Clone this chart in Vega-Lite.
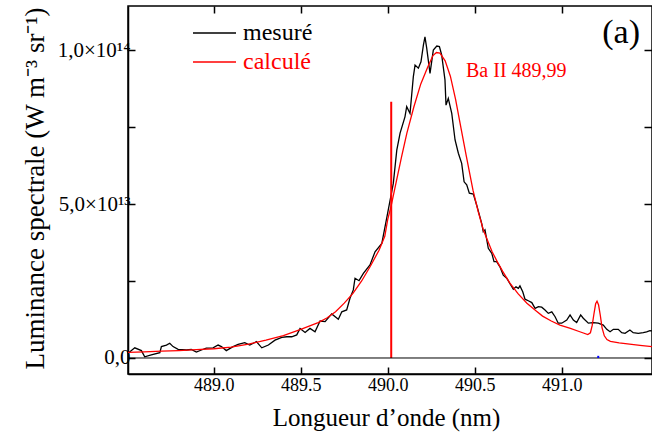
{
 "$schema": "https://vega.github.io/schema/vega-lite/v6.json",
 "width": 524,
 "height": 368,
 "autosize": {"type": "none"},
 "padding": {"left": 128, "top": 6, "right": 0, "bottom": 71},
 "background": "white",
 "config": {
  "view": {"stroke": "black", "strokeWidth": 1.5},
  "axis": {"domainColor": "black", "domainWidth": 1.5, "tickColor": "black", "tickWidth": 1.5, "labelColor": "black", "titleColor": "black", "grid": false, "labelFont": "Liberation Serif", "labelFontSize": 20, "titleFont": "Liberation Serif", "titleFontSize": 27, "titleFontWeight": "normal"}
 },
 "layer": [
  {
   "data": {"values": [
    {"serie":"mesuré","nm":488.507,"L":0.15},{"serie":"mesuré","nm":488.546,"L":0.33},{"serie":"mesuré","nm":488.584,"L":0.24},{"serie":"mesuré","nm":488.603,"L":0.04},{"serie":"mesuré","nm":488.641,"L":0.10},{"serie":"mesuré","nm":488.690,"L":0.17},{"serie":"mesuré","nm":488.699,"L":0.37},{"serie":"mesuré","nm":488.728,"L":0.42},{"serie":"mesuré","nm":488.747,"L":0.48},{"serie":"mesuré","nm":488.766,"L":0.37},{"serie":"mesuré","nm":488.795,"L":0.28},{"serie":"mesuré","nm":488.843,"L":0.26},{"serie":"mesuré","nm":488.871,"L":0.28},{"serie":"mesuré","nm":488.900,"L":0.19},{"serie":"mesuré","nm":488.929,"L":0.26},{"serie":"mesuré","nm":488.957,"L":0.32},{"serie":"mesuré","nm":488.996,"L":0.33},{"serie":"mesuré","nm":489.025,"L":0.42},{"serie":"mesuré","nm":489.044,"L":0.37},{"serie":"mesuré","nm":489.072,"L":0.24},{"serie":"mesuré","nm":489.111,"L":0.37},{"serie":"mesuré","nm":489.140,"L":0.44},{"serie":"mesuré","nm":489.178,"L":0.50},{"serie":"mesuré","nm":489.207,"L":0.42},{"serie":"mesuré","nm":489.245,"L":0.53},{"serie":"mesuré","nm":489.276,"L":0.33},{"serie":"mesuré","nm":489.314,"L":0.42},{"serie":"mesuré","nm":489.352,"L":0.58},{"serie":"mesuré","nm":489.391,"L":0.67},{"serie":"mesuré","nm":489.420,"L":0.69},{"serie":"mesuré","nm":489.448,"L":0.69},{"serie":"mesuré","nm":489.477,"L":0.75},{"serie":"mesuré","nm":489.496,"L":0.96},{"serie":"mesuré","nm":489.525,"L":0.83},{"serie":"mesuré","nm":489.553,"L":0.96},{"serie":"mesuré","nm":489.582,"L":0.85},{"serie":"mesuré","nm":489.611,"L":1.20},{"serie":"mesuré","nm":489.640,"L":1.18},{"serie":"mesuré","nm":489.678,"L":1.43},{"serie":"mesuré","nm":489.716,"L":1.26},{"serie":"mesuré","nm":489.736,"L":1.50},{"serie":"mesuré","nm":489.764,"L":1.56},{"serie":"mesuré","nm":489.783,"L":1.94},{"serie":"mesuré","nm":489.802,"L":2.21},{"serie":"mesuré","nm":489.812,"L":2.59},{"serie":"mesuré","nm":489.835,"L":2.51},{"serie":"mesuré","nm":489.860,"L":2.75},{"serie":"mesuré","nm":489.898,"L":3.02},{"serie":"mesuré","nm":489.927,"L":3.45},{"serie":"mesuré","nm":489.966,"L":3.72},{"serie":"mesuré","nm":489.994,"L":4.54},{"serie":"mesuré","nm":490.032,"L":5.67},{"serie":"mesuré","nm":490.052,"L":6.75},{"serie":"mesuré","nm":490.071,"L":7.30},{"serie":"mesuré","nm":490.099,"L":7.83},{"serie":"mesuré","nm":490.109,"L":8.16},{"serie":"mesuré","nm":490.128,"L":7.94},{"serie":"mesuré","nm":490.147,"L":9.13},{"serie":"mesuré","nm":490.157,"L":9.51},{"serie":"mesuré","nm":490.176,"L":9.41},{"serie":"mesuré","nm":490.191,"L":9.62},{"serie":"mesuré","nm":490.205,"L":10.16},{"serie":"mesuré","nm":490.214,"L":10.43},{"serie":"mesuré","nm":490.224,"L":10.06},{"serie":"mesuré","nm":490.243,"L":9.24},{"serie":"mesuré","nm":490.262,"L":10.00},{"serie":"mesuré","nm":490.282,"L":10.13},{"serie":"mesuré","nm":490.297,"L":10.11},{"serie":"mesuré","nm":490.310,"L":9.84},{"serie":"mesuré","nm":490.329,"L":9.03},{"serie":"mesuré","nm":490.335,"L":8.21},{"serie":"mesuré","nm":490.348,"L":8.43},{"serie":"mesuré","nm":490.368,"L":7.94},{"serie":"mesuré","nm":490.387,"L":7.08},{"serie":"mesuré","nm":490.406,"L":6.65},{"serie":"mesuré","nm":490.425,"L":6.32},{"serie":"mesuré","nm":490.439,"L":5.72},{"serie":"mesuré","nm":490.454,"L":5.62},{"serie":"mesuré","nm":490.469,"L":5.35},{"serie":"mesuré","nm":490.492,"L":5.32},{"serie":"mesuré","nm":490.511,"L":4.97},{"serie":"mesuré","nm":490.540,"L":4.37},{"serie":"mesuré","nm":490.549,"L":4.10},{"serie":"mesuré","nm":490.559,"L":4.16},{"serie":"mesuré","nm":490.578,"L":3.56},{"serie":"mesuré","nm":490.598,"L":3.40},{"serie":"mesuré","nm":490.611,"L":3.13},{"serie":"mesuré","nm":490.626,"L":3.13},{"serie":"mesuré","nm":490.645,"L":2.96},{"serie":"mesuré","nm":490.664,"L":2.69},{"serie":"mesuré","nm":490.684,"L":2.59},{"serie":"mesuré","nm":490.707,"L":2.37},{"serie":"mesuré","nm":490.722,"L":2.23},{"serie":"mesuré","nm":490.737,"L":2.31},{"serie":"mesuré","nm":490.751,"L":2.26},{"serie":"mesuré","nm":490.760,"L":2.34},{"serie":"mesuré","nm":490.776,"L":2.15},{"serie":"mesuré","nm":490.789,"L":1.91},{"serie":"mesuré","nm":490.808,"L":1.86},{"serie":"mesuré","nm":490.828,"L":1.80},{"serie":"mesuré","nm":490.847,"L":1.61},{"serie":"mesuré","nm":490.866,"L":1.67},{"serie":"mesuré","nm":490.885,"L":1.65},{"serie":"mesuré","nm":490.904,"L":1.56},{"serie":"mesuré","nm":490.923,"L":1.45},{"serie":"mesuré","nm":490.943,"L":1.50},{"serie":"mesuré","nm":490.962,"L":1.34},{"serie":"mesuré","nm":490.980,"L":1.13},{"serie":"mesuré","nm":491.000,"L":1.13},{"serie":"mesuré","nm":491.029,"L":1.23},{"serie":"mesuré","nm":491.048,"L":1.40},{"serie":"mesuré","nm":491.067,"L":1.23},{"serie":"mesuré","nm":491.086,"L":1.15},{"serie":"mesuré","nm":491.109,"L":1.40},{"serie":"mesuré","nm":491.124,"L":1.29},{"serie":"mesuré","nm":491.153,"L":1.13},{"serie":"mesuré","nm":491.182,"L":1.15},{"serie":"mesuré","nm":491.210,"L":1.13},{"serie":"mesuré","nm":491.239,"L":1.07},{"serie":"mesuré","nm":491.259,"L":0.93},{"serie":"mesuré","nm":491.278,"L":0.85},{"serie":"mesuré","nm":491.297,"L":0.93},{"serie":"mesuré","nm":491.325,"L":0.93},{"serie":"mesuré","nm":491.345,"L":0.82},{"serie":"mesuré","nm":491.364,"L":0.80},{"serie":"mesuré","nm":491.392,"L":0.91},{"serie":"mesuré","nm":491.411,"L":0.82},{"serie":"mesuré","nm":491.440,"L":0.80},{"serie":"mesuré","nm":491.469,"L":0.82},{"serie":"mesuré","nm":491.488,"L":0.85},{"serie":"mesuré","nm":491.507,"L":0.89},{"serie":"mesuré","nm":491.519,"L":0.88},
    {"serie":"calculé","nm":488.507,"L":0.18},{"serie":"calculé","nm":488.6,"L":0.20},{"serie":"calculé","nm":488.7,"L":0.22},{"serie":"calculé","nm":488.8,"L":0.24},{"serie":"calculé","nm":488.9,"L":0.27},{"serie":"calculé","nm":489.0,"L":0.30},{"serie":"calculé","nm":489.1,"L":0.35},{"serie":"calculé","nm":489.2,"L":0.45},{"serie":"calculé","nm":489.3,"L":0.58},{"serie":"calculé","nm":489.4,"L":0.73},{"serie":"calculé","nm":489.5,"L":0.93},{"serie":"calculé","nm":489.6,"L":1.15},{"serie":"calculé","nm":489.65,"L":1.30},{"serie":"calculé","nm":489.7,"L":1.50},{"serie":"calculé","nm":489.75,"L":1.78},{"serie":"calculé","nm":489.8,"L":2.10},{"serie":"calculé","nm":489.85,"L":2.50},{"serie":"calculé","nm":489.9,"L":2.98},{"serie":"calculé","nm":489.95,"L":3.50},{"serie":"calculé","nm":489.983,"L":3.95},{"serie":"calculé","nm":490.0,"L":4.50},{"serie":"calculé","nm":490.02,"L":4.95},{"serie":"calculé","nm":490.05,"L":5.75},{"serie":"calculé","nm":490.08,"L":6.55},{"serie":"calculé","nm":490.11,"L":7.30},{"serie":"calculé","nm":490.15,"L":8.15},{"serie":"calculé","nm":490.19,"L":8.90},{"serie":"calculé","nm":490.23,"L":9.45},{"serie":"calculé","nm":490.26,"L":9.82},{"serie":"calculé","nm":490.28,"L":9.92},{"serie":"calculé","nm":490.30,"L":9.90},{"serie":"calculé","nm":490.33,"L":9.65},{"serie":"calculé","nm":490.36,"L":9.15},{"serie":"calculé","nm":490.39,"L":8.40},{"serie":"calculé","nm":490.42,"L":7.50},{"serie":"calculé","nm":490.45,"L":6.60},{"serie":"calculé","nm":490.49,"L":5.45},{"serie":"calculé","nm":490.52,"L":4.75},{"serie":"calculé","nm":490.55,"L":4.15},{"serie":"calculé","nm":490.60,"L":3.45},{"serie":"calculé","nm":490.63,"L":3.12},{"serie":"calculé","nm":490.66,"L":2.82},{"serie":"calculé","nm":490.70,"L":2.45},{"serie":"calculé","nm":490.75,"L":2.08},{"serie":"calculé","nm":490.80,"L":1.78},{"serie":"calculé","nm":490.85,"L":1.54},{"serie":"calculé","nm":490.89,"L":1.36},{"serie":"calculé","nm":490.94,"L":1.20},{"serie":"calculé","nm":490.99,"L":1.07},{"serie":"calculé","nm":491.05,"L":0.96},{"serie":"calculé","nm":491.10,"L":0.86},{"serie":"calculé","nm":491.15,"L":0.76},{"serie":"calculé","nm":491.165,"L":0.82},{"serie":"calculé","nm":491.175,"L":1.05},{"serie":"calculé","nm":491.185,"L":1.42},{"serie":"calculé","nm":491.195,"L":1.76},{"serie":"calculé","nm":491.203,"L":1.84},{"serie":"calculé","nm":491.212,"L":1.72},{"serie":"calculé","nm":491.222,"L":1.38},{"serie":"calculé","nm":491.232,"L":0.98},{"serie":"calculé","nm":491.245,"L":0.72},{"serie":"calculé","nm":491.26,"L":0.60},{"serie":"calculé","nm":491.28,"L":0.54},{"serie":"calculé","nm":491.33,"L":0.49},{"serie":"calculé","nm":491.39,"L":0.45},{"serie":"calculé","nm":491.45,"L":0.41},{"serie":"calculé","nm":491.519,"L":0.37}
   ]},
   "mark": {"type": "line", "strokeWidth": 1.3, "clip": true},
   "encoding": {
    "x": {"field": "nm", "type": "quantitative", "scale": {"domain": [488.507, 491.519], "nice": false, "zero": false},
     "axis": {"orient": "bottom", "values": [489, 489.5, 490, 490.5, 491], "format": ".1f", "tickSize": -7, "labelPadding": 9, "labelFontSize": 18,
      "title": "Longueur d’onde (nm)", "titleFontSize": 25, "titleX": 258, "titleY": 51, "titleBaseline": "alphabetic", "titleAlign": "center"}},
    "y": {"field": "L", "type": "quantitative", "scale": {"domain": [-0.52, 11.43], "nice": false, "zero": false},
     "axis": {"orient": "left", "values": [0, 2.5, 5, 7.5, 10], "tickSize": -7, "labelPadding": 5, "labelFontSize": 21,
      "labelExpr": "datum.value === 0 ? '0,0' : datum.value === 5 ? '5,0×10¹³' : datum.value === 10 ? '1,0×10¹⁴' : ''",
      "title": "Luminance spectrale (W m⁻³ sr⁻¹)", "titleX": -85, "titleY": 182, "titleBaseline": "alphabetic", "titleAlign": "center", "titleAngle": -90}},
    "color": {"field": "serie", "type": "nominal", "scale": {"domain": ["mesuré", "calculé"], "range": ["black", "red"]},
     "legend": {"title": null, "orient": "none", "legendX": 64, "legendY": 15, "direction": "vertical", "symbolType": "stroke", "symbolSize": 1849, "symbolStrokeWidth": 1.5, "clipHeight": 24, "labelFont": "Liberation Serif", "labelFontSize": 24, "labelColor": {"expr": "datum.label === 'calculé' ? 'red' : 'black'"}, "rowPadding": 5, "labelOffset": 6, "padding": 0}}
   }
  },
  {
   "data": {"values": [{"nm": 490.02, "L": 0, "L2": 8.32}]},
   "mark": {"type": "rule", "color": "red", "strokeWidth": 2},
   "encoding": {
    "x": {"field": "nm", "type": "quantitative", "axis": {"orient": "top", "values": [489, 489.5, 490, 490.5, 491], "labels": false, "title": null, "tickSize": -7, "domain": false}},
    "y": {"field": "L", "type": "quantitative", "axis": {"orient": "right", "values": [0, 2.5, 5, 7.5, 10], "labels": false, "title": null, "tickSize": -8, "domain": false}},
    "y2": {"field": "L2"}
   }
  },
  {
   "data": {"values": [{"L": 0}]},
   "mark": {"type": "rule", "color": "black", "strokeWidth": 1},
   "encoding": {"y": {"field": "L", "type": "quantitative", "axis": null}}
  },
  {
   "data": {"values": [{"nm": 491.21, "L": 0, "L2": 0.07}]},
   "mark": {"type": "rule", "color": "blue", "strokeWidth": 2},
   "encoding": {
    "x": {"field": "nm", "type": "quantitative", "axis": null},
    "y": {"field": "L", "type": "quantitative", "axis": null},
    "y2": {"field": "L2"}
   }
  },
  {
   "data": {"values": [{}]},
   "mark": {"type": "text", "text": "Ba II 489,99", "color": "red", "fontSize": 20, "font": "Liberation Serif", "align": "left", "baseline": "alphabetic"},
   "encoding": {
    "x": {"datum": 490.45, "type": "quantitative", "axis": null},
    "y": {"datum": 9.12, "type": "quantitative", "axis": null}
   }
  },
  {
   "data": {"values": [{}]},
   "mark": {"type": "text", "text": "(a)", "color": "black", "fontSize": 34, "font": "Liberation Serif", "align": "right", "baseline": "alphabetic"},
   "encoding": {
    "x": {"datum": 491.45, "type": "quantitative", "axis": null},
    "y": {"datum": 10.23, "type": "quantitative", "axis": null}
   }
  }
 ]
}
